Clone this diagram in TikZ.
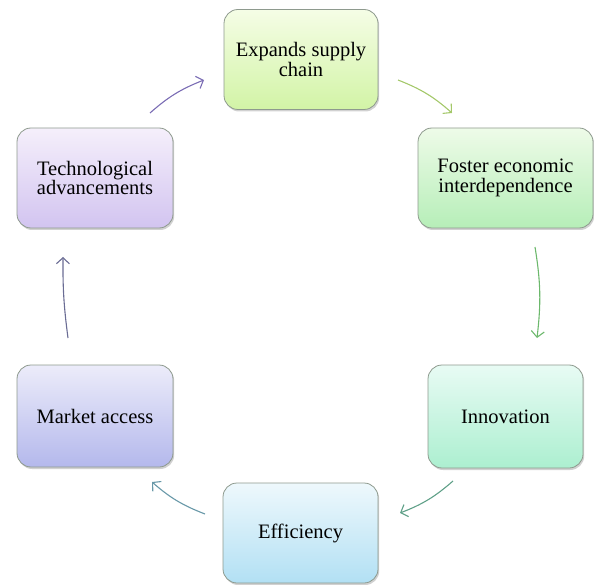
\documentclass[tikz,border=0pt]{standalone}
\usepackage{fontspec}
\setmainfont{Liberation Serif}
\usetikzlibrary{arrows.meta,shadows}

% box fills (top / bottom of each gradient)
\definecolor{boxline}{HTML}{8E9A8E}
\definecolor{expTop}{HTML}{F5FDE6}\definecolor{expBot}{HTML}{D2F4A6}
\definecolor{fosTop}{HTML}{EEFBE8}\definecolor{fosBot}{HTML}{B6EEB8}
\definecolor{innTop}{HTML}{E8FBF4}\definecolor{innBot}{HTML}{ACEFD0}
\definecolor{effTop}{HTML}{EEF8FC}\definecolor{effBot}{HTML}{B2E0F4}
\definecolor{mktTop}{HTML}{ECECFA}\definecolor{mktBot}{HTML}{B4B8EC}
\definecolor{tecTop}{HTML}{F5EFFB}\definecolor{tecBot}{HTML}{D2C4F0}
% connector colours
\definecolor{arTE}{HTML}{7A6CB4}
\definecolor{arEF}{HTML}{A4C86A}
\definecolor{arFI}{HTML}{6CB86C}
\definecolor{arIE}{HTML}{5FA088}
\definecolor{arEM}{HTML}{6898A8}
\definecolor{arMT}{HTML}{6A6C94}

\begin{document}
\begin{tikzpicture}[x=1pt,y=-1pt,
  stage/.style={rounded corners=14pt, draw=boxline, line width=0.8pt,
    minimum width=155pt, minimum height=100pt, align=center, inner sep=2pt,
    font=\fontsize{20.5}{19.5}\selectfont,
    drop shadow={shadow xshift=1.2pt, shadow yshift=-2pt, fill=black!40, opacity=0.45}},
  link/.style={line width=1.1pt, -{Straight Barb[length=6pt,width=13pt]}}
]
\useasboundingbox (0,0) rectangle (594,585);

% the six stages of the cycle
\node[stage, minimum width=154pt, top color=expTop, bottom color=expBot] (expand) at (301,59.5) {Expands supply\\chain};
\node[stage, minimum width=175pt, top color=fosTop, bottom color=fosBot] (foster) at (505.5,178) {Foster economic\\interdependence};
\node[stage, minimum height=103pt, top color=innTop, bottom color=innBot] (innov) at (505.5,416.5) {Innovation};
\node[stage, top color=effTop, bottom color=effBot] (eff) at (300.5,533) {Efficiency};
\node[stage, minimum height=102pt, minimum width=156pt, top color=mktTop, bottom color=mktBot] (market) at (95,416) {Market access};
\node[stage, minimum width=156pt, top color=tecTop, bottom color=tecBot] (tech) at (95,178) {Technological\\advancements};

% free ends of the connecting arrows
\coordinate (teS) at (150,113);  \coordinate (teE) at (204,80);
\coordinate (efS) at (398,80);   \coordinate (efE) at (452,113);
\coordinate (fiS) at (535,247);  \coordinate (fiE) at (537,338);
\coordinate (ieS) at (453,481);  \coordinate (ieE) at (400,513);
\coordinate (emS) at (205,514);  \coordinate (emE) at (152,482);
\coordinate (mtS) at (68,338);   \coordinate (mtE) at (63,257);

\draw[link, arTE] (teS) to[bend left=10] (teE);
\draw[link, arEF] (efS) to[bend left=10] (efE);
\draw[link, arFI] (fiS) to[bend left=8] (fiE);
\draw[link, arIE] (ieS) to[bend left=10] (ieE);
\draw[link, arEM] (emS) to[bend left=10] (emE);
\draw[link, arMT] (mtS) to[bend left=4] (mtE);
\end{tikzpicture}
\end{document}
